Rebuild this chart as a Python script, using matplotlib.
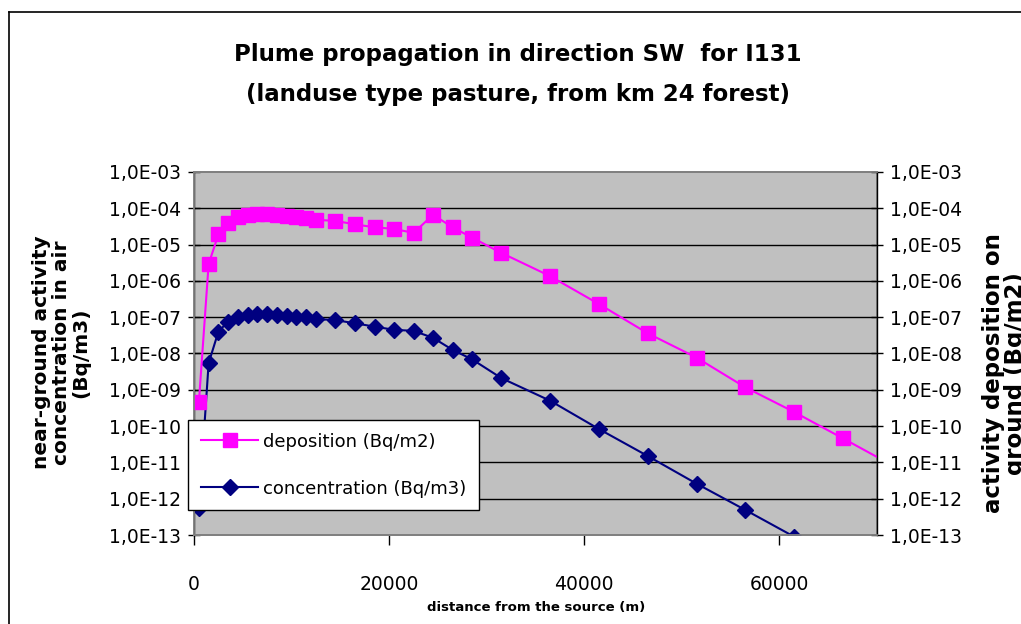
import matplotlib
matplotlib.use("Agg")
import matplotlib.pyplot as plt
import numpy as np
from matplotlib.ticker import FixedLocator, FixedFormatter, NullLocator

# distance from the source (m)
distance = [500, 1500, 2500, 3500, 4500, 5500, 6500, 7500, 8500, 9500, 10500,
            11500, 12500, 14500, 16500, 18500, 20500, 22500, 24500, 26500,
            28500, 31500, 36500, 41500, 46500, 51500, 56500, 61500, 66500, 71500]

deposition = [4.5e-10, 2.9e-6, 1.9e-5, 4.0e-5, 5.6e-5, 6.6e-5, 6.8e-5, 6.8e-5,
              6.6e-5, 6.1e-5, 5.6e-5, 5.3e-5, 4.8e-5, 4.5e-5, 3.6e-5, 3.0e-5,
              2.7e-5, 2.1e-5, 6.6e-5, 3.0e-5, 1.55e-5, 5.9e-6, 1.35e-6, 2.3e-7,
              3.6e-8, 7.7e-9, 1.17e-9, 2.45e-10, 4.6e-11, 8.5e-12]

concentration = [5.5e-13, 5.4e-9, 4.0e-8, 7.6e-8, 1.0e-7, 1.15e-7, 1.23e-7, 1.23e-7,
                 1.15e-7, 1.07e-7, 1.03e-7, 1.0e-7, 8.9e-8, 8.3e-8, 6.8e-8, 5.5e-8,
                 4.5e-8, 4.2e-8, 2.7e-8, 1.26e-8, 6.9e-9, 2.1e-9, 5.0e-10, 8.3e-11,
                 1.5e-11, 2.6e-12, 4.9e-13, 9.0e-14, 1.6e-14, 3.0e-15]

x_ticks = [0, 20000, 40000, 60000]
y_exps = list(range(-13, -2))
y_ticks = [10.0 ** e for e in y_exps]
y_labels = ["1,0E-%02d" % (-e) for e in y_exps]

plt.rcParams['font.family'] = ["DejaVu Sans"]

fig = plt.figure(figsize=(10.21, 6.24), dpi=100)

# outer chart frame
fig.add_artist(plt.Line2D([0.009, 0.009], [0, 0.981], color="black", lw=1.2))
fig.add_artist(plt.Line2D([0.009, 1.0], [0.981, 0.981], color="black", lw=1.2))

ax = fig.add_axes([0.190, 0.1426, 0.669, 0.5818])
ax.set_facecolor("#c0c0c0")
ax.set_yscale("log")
ax.set_xlim(0, 70000)
ax.set_ylim(1e-13, 1e-3)

ax2 = ax.twinx()
ax2.set_yscale("log")
ax2.set_ylim(1e-13, 1e-3)

for a in (ax, ax2):
    a.yaxis.set_major_locator(FixedLocator(y_ticks))
    a.yaxis.set_major_formatter(FixedFormatter(y_labels))
    a.yaxis.set_minor_locator(NullLocator())
    a.tick_params(axis="y", direction="inout", length=9, width=1, labelsize=13.5, pad=5)
    for s in a.spines.values():
        s.set_color("#808080")
        s.set_linewidth(1.3)

ax.spines["left"].set_color("black")
ax2.spines["right"].set_color("black")
ax.spines["left"].set_linewidth(1)
ax2.spines["right"].set_linewidth(1)

ax.set_xticks(x_ticks)
ax.set_xticklabels([str(v) for v in x_ticks])
ax.tick_params(axis="x", direction="out", length=7, width=1, labelsize=13.5, pad=22)

for t in y_ticks[1:-1]:
    ax.axhline(t, color="black", lw=1, zorder=1)

l2, = ax2.plot(distance, deposition, color="#ff00ff", lw=1.5, marker="s",
               markersize=10, markeredgecolor="#ff00ff", label="deposition (Bq/m2)")
l1, = ax.plot(distance, concentration, color="#000080", lw=1.5, marker="D",
              markersize=8, label="concentration (Bq/m3)", zorder=3)

leg = ax2.legend(handles=[l2, l1], loc="upper left",
                 bbox_to_anchor=(188 / 1021, 1 - 420 / 624),
                 bbox_transform=fig.transFigure, fontsize=13, frameon=True,
                 fancybox=False, edgecolor="black", framealpha=1,
                 handlelength=3.2, borderpad=0.7, labelspacing=1.6,
                 handletextpad=0.25, borderaxespad=0)
leg.get_frame().set_linewidth(1)

fig.text(0.507, 0.912, "Plume propagation in direction SW  for I131",
         ha="center", va="center", fontsize=16.5, fontweight="bold")
fig.text(0.507, 0.848, "(landuse type pasture, from km 24 forest)",
         ha="center", va="center", fontsize=16.5, fontweight="bold")

fig.text(0.060, 0.435, "near-ground activity\nconcentration in air\n(Bq/m3)",
         rotation=90, ha="center", va="center", fontsize=14.5, fontweight="bold",
         linespacing=1.05)
fig.text(0.984, 0.402, "activity deposition on\nground (Bq/m2)",
         rotation=90, ha="center", va="center", fontsize=16.5, fontweight="bold",
         linespacing=0.95)

fig.text(0.525, 0.026, "distance from the source (m)", ha="center", va="center",
         fontsize=9.5, fontweight="bold")

fig.savefig("out.png", dpi=100)
